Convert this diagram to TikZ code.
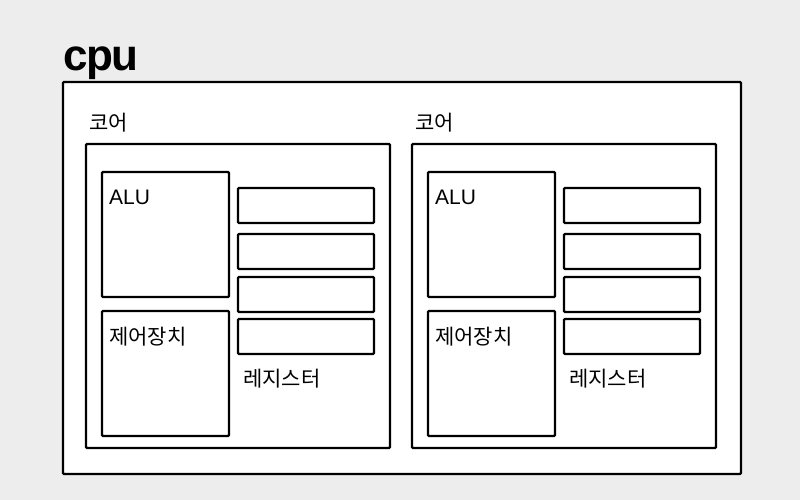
\documentclass[tikz,border=0pt]{standalone}
\usepackage{fontspec}
\setmainfont{Liberation Sans}
\newfontfamily\kr{Noto Sans CJK KR}
\definecolor{bg}{HTML}{EDEDED}
\begin{document}
\begin{tikzpicture}[x=1pt,y=-1pt,
  box/.style={draw=black,line width=2.2pt,fill=white,rounded corners=1pt},
  lbl/.style={inner sep=0pt,anchor=base west,font=\kr\fontsize{21}{24}\selectfont}]
\fill[bg] (0,0) rectangle (800,500);
\useasboundingbox (0,0) rectangle (800,500);
\node[inner sep=0pt,anchor=base west,font=\bfseries\fontsize{44}{50}\selectfont] (cputxt) at (63,71) {c\kern-1.5pt p\kern-1.5pt u};
\draw[box] (63,82) rectangle (741,474);
\foreach \i/\dx in {1/0,2/326}{
  \begin{scope}[xshift=\dx]
  \node[lbl] (core\i) at (89,131) {코어};
  \draw[box] (86,144) rectangle (390,448);
  \draw[box] (102,172) rectangle (229,297);
  \node[lbl,font=\fontsize{21}{24}\selectfont] (alu\i) at (109,204) {ALU};
  \draw[box] (102,311) rectangle (229,436);
  \node[lbl] (cu\i) at (109,344) {제어장치};
  \draw[box] (238,188) rectangle (374,223);
  \draw[box] (238,234) rectangle (374,269);
  \draw[box] (238,277) rectangle (374,312);
  \draw[box] (238,319) rectangle (374,354);
  \node[lbl] (reg\i) at (243,386) {레지스터};
  \end{scope}
}
\end{tikzpicture}
\end{document}
